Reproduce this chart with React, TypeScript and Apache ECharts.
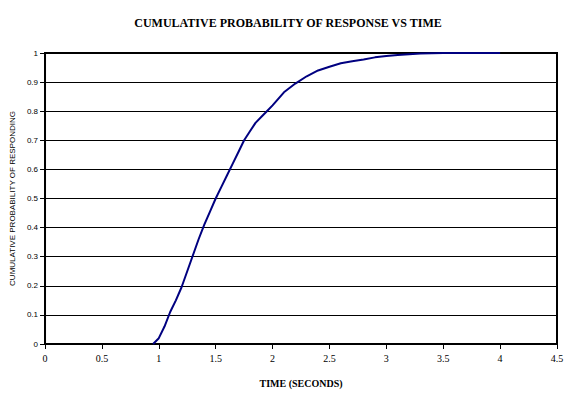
import React, { useEffect, useRef } from "react";
import * as echarts from "echarts";

const timeSeconds = [
  0.95, 1.0, 1.05, 1.1, 1.15, 1.2, 1.25, 1.3, 1.35, 1.4, 1.45, 1.5, 1.55, 1.6, 1.65, 1.7, 1.75, 1.8,
  1.85, 1.9, 1.95, 2.0, 2.1, 2.2, 2.3, 2.4, 2.5, 2.6, 2.7, 2.8, 2.9, 3.0, 3.1, 3.2, 3.3, 3.4, 3.5, 4.0,
];
const cumulativeProbability = [
  0, 0.02, 0.06, 0.11, 0.15, 0.195, 0.25, 0.305, 0.36, 0.41, 0.455, 0.5, 0.54, 0.58, 0.62, 0.66, 0.7,
  0.73, 0.76, 0.78, 0.8, 0.82, 0.865, 0.895, 0.92, 0.94, 0.953, 0.965, 0.972, 0.978, 0.985, 0.99,
  0.993, 0.996, 0.998, 0.999, 1.0, 1.0,
];

const titleText = "CUMULATIVE PROBABILITY OF RESPONSE VS TIME";
const xAxisName = "TIME (SECONDS)";
const yAxisName = "CUMULATIVE PROBABILITY OF RESPONDING";

export default function App() {
  const ref = useRef<HTMLDivElement>(null);
  useEffect(() => {
    if (!ref.current) return;
    const chart = echarts.init(ref.current, undefined, { renderer: "svg" });
    const data = timeSeconds.map((x, i) => [x, cumulativeProbability[i]]);
    chart.setOption({
      animation: false,
      backgroundColor: "#ffffff",
      title: {
        text: titleText,
        left: "center",
        top: 12,
        textStyle: {
          fontFamily: "Liberation Serif",
          fontWeight: "bold",
          fontSize: 12,
          color: "#000",
        },
      },
      grid: {
        left: 45,
        top: 53,
        width: 512,
        height: 291,
        show: true,
        borderColor: "#000",
        borderWidth: 2,
        backgroundColor: "#ffffff",
      },
      xAxis: {
        type: "value",
        min: 0,
        max: 4.5,
        interval: 0.5,
        name: xAxisName,
        nameLocation: "middle",
        nameGap: 34,
        nameTextStyle: {
          fontFamily: "Liberation Serif",
          fontWeight: "bold",
          fontSize: 10,
          color: "#000",
        },
        axisLine: { show: true, lineStyle: { color: "#000", width: 2 } },
        axisTick: { show: true, length: 5, lineStyle: { color: "#000", width: 1 } },
        axisLabel: {
          fontFamily: "Liberation Serif",
          fontSize: 10,
          color: "#000",
          margin: 9,
        },
        splitLine: { show: false },
      },
      yAxis: {
        type: "value",
        min: 0,
        max: 1,
        interval: 0.1,
        name: yAxisName,
        nameLocation: "middle",
        nameGap: 29,
        nameTextStyle: {
          fontFamily: "Liberation Sans",
          fontSize: 8,
          color: "#000",
        },
        axisLine: { show: true, lineStyle: { color: "#000", width: 2 } },
        axisTick: { show: true, length: 5, lineStyle: { color: "#000", width: 1 } },
        axisLabel: {
          fontFamily: "Liberation Sans",
          fontSize: 8,
          color: "#000",
          margin: 7,
        },
        splitLine: { show: true, lineStyle: { color: "#000", width: 1 } },
      },
      series: [
        {
          type: "line",
          data,
          showSymbol: false,
          symbol: "none",
          lineStyle: { color: "#000080", width: 2 },
          z: 3,
        },
      ],
    });
    return () => chart.dispose();
  }, []);
  return (
    <div
      ref={ref}
      style={{ position: "fixed", left: 0, top: 0, width: 576, height: 396, background: "#fff" }}
    />
  );
}
